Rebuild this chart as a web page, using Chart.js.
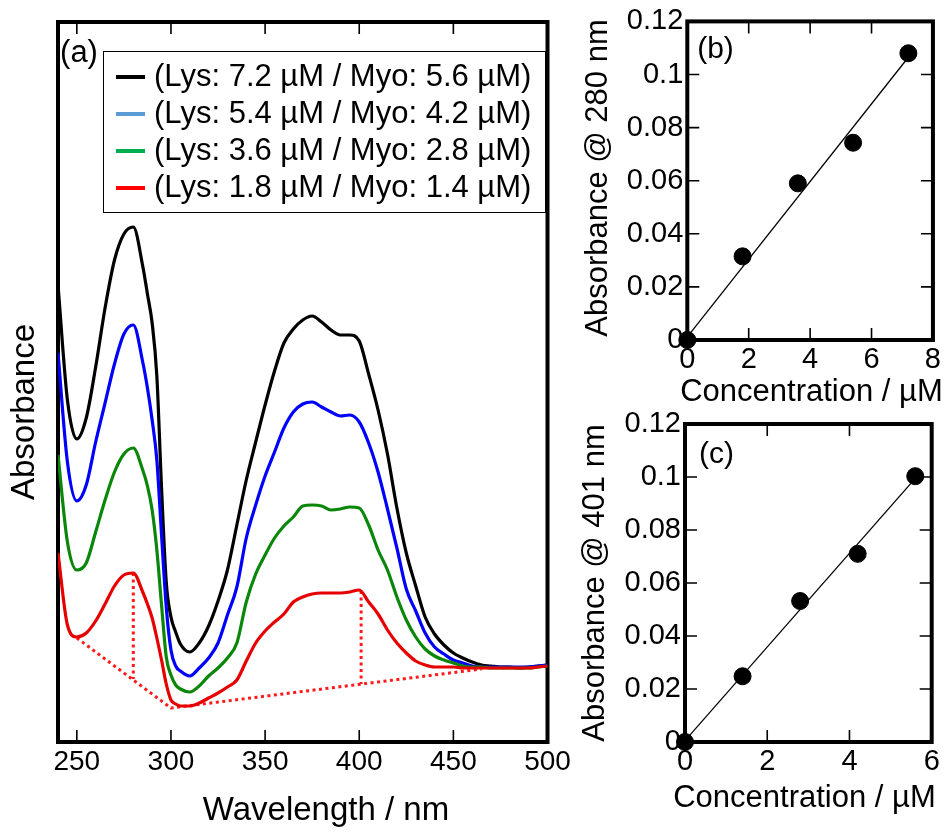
<!DOCTYPE html>
<html>
<head>
<meta charset="utf-8">
<script src="https://cdn.jsdelivr.net/npm/chart.js@4.4.1/dist/chart.umd.min.js"></script>
<style>
  html, body { margin: 0; padding: 0; background: #fff; }
  #wrap { position: relative; width: 944px; height: 832px; }
  canvas { position: absolute; }
</style>
</head>
<body>
<div id="wrap">
  <canvas id="spectra" width="578" height="832" style="left:0;top:0"></canvas>
  <canvas id="at280" width="366" height="416" style="left:578px;top:0"></canvas>
  <canvas id="at401" width="366" height="432" style="left:578px;top:400px"></canvas>
</div>
<script>
// ---- panel (a): UV-vis spectra (arbitrary absorbance units) ----
const wavelength = [240,245,250,255,260,265,270,275,280,285,287.5,290,292.5,295,297.5,300,302.5,305,310,315,320,325,330,335,
  340,345,350,355,360,365,370,375,380,385,390,395,400,405,410,415,420,425,430,435,
  440,445,450,455,460,465,470,475,480,485,490,495,500];

const absMix72 = [457,342,303,324,375,434,482,508,515,476,448,419,366,254,160,125,110,98,90,99,116,141,172,217,
  262,300,337,371,399,413,422,426,420,412,407,407,401,368,332,288,234,189,156,125,
  108,97,89,84,80,77,76,75,75,74,75,76,77];
const absMix54 = [389,280,241,257,300,339,378,408,417,380,354,322,282,207,135,92,76,71,66,74,84,99,127,155,
  204,237,266,290,314,330,338,340,335,330,326,327,320,299,270,233,194,153,131,109,
  95,88,82,79,76,75,75,75,75,75,75,76,77];
const absMix36 = [287,200,172,179,210,242,270,288,294,272,256,232,192,137,85,67,57,53,50,56,66,74,84,99,
  140,168,187,204,216,225,236,237,236,232,233,235,234,217,192,172,145,122,105,93,
  86,82,79,76,75,75,74,74,74,74,74,75,76];
const absMix18 = [189,117,105,109,121,138,156,167,169,150,138,124,104,82,58,42,38,36,36,39,44,49,55,62,
  81,99,111,120,128,140,145,148,149,149,149,150,152,140,128,112,99,89,81,77,
  75,75,75,74,74,74,74,74,74,74,74,75,76];

const seriesLabels = [
  '(Lys: 7.2 µM / Myo: 5.6 µM)',
  '(Lys: 5.4 µM / Myo: 4.2 µM)',
  '(Lys: 3.6 µM / Myo: 2.8 µM)',
  '(Lys: 1.8 µM / Myo: 1.4 µM)'
];
const lineColors = ['#000000', '#0000ff', '#0a870a', '#e60000'];
const legendColors = ['#000000', '#5b9bd5', '#00b050', '#ff0000'];

// baseline construction on the lowest spectrum (red dotted)
const baseWl = [250, 300, 465];
const baseAbs = [104, 34, 73];
const dropWl = [280, 401];
const dropTop = [169, 151];
const dropBottom = [63, 58];

const xTicksA = [250, 300, 350, 400, 450, 500];

// ---- panels (b) and (c): calibration plots ----
const lysConc = [0, 1.8, 3.6, 5.4, 7.2];
const abs280 = [0, 0.0315, 0.059, 0.0743, 0.108];
const fitConcB = [0, 7.2];
const fitAbsB = [0.0012, 0.1065];

const myoConc = [0, 1.4, 2.8, 4.2, 5.6];
const abs401 = [0, 0.0248, 0.0532, 0.071, 0.1003];
const fitConcC = [0, 5.6];
const fitAbsC = [0.0005, 0.0995];

const xTicksB = [0, 2, 4, 6, 8];
const xTicksC = [0, 2, 4, 6];
const yTicksBC = [0, 0.02, 0.04, 0.06, 0.08, 0.1, 0.12];

const FONT = "'Liberation Sans', Arial, Helvetica, sans-serif";
Chart.defaults.font.family = FONT;
Chart.defaults.color = '#000';

function pts(xs, ys) {
  return xs.map((x, i) => ({ x: x, y: ys[i] }));
}

// frame, inward ticks, free text and legend
const decor = {
  id: 'decor',
  beforeDatasetsDraw(chart, args, opts) {
    const ctx = chart.ctx, a = chart.chartArea;
    const xs = chart.scales.x, ys = chart.scales.y;
    const len = opts.tickLength;
    ctx.save();
    ctx.strokeStyle = '#000';
    ctx.lineWidth = 1.6;
    ctx.beginPath();
    xs.ticks.forEach(t => {
      const px = xs.getPixelForValue(t.value);
      ctx.moveTo(px, a.bottom); ctx.lineTo(px, a.bottom - len);
      ctx.moveTo(px, a.top); ctx.lineTo(px, a.top + len);
    });
    if (opts.yTicks) {
      ys.ticks.forEach(t => {
        const py = ys.getPixelForValue(t.value);
        ctx.moveTo(a.left, py); ctx.lineTo(a.left + len, py);
        ctx.moveTo(a.right, py); ctx.lineTo(a.right - len, py);
      });
    }
    ctx.stroke();
    ctx.lineWidth = 4;
    ctx.strokeRect(a.left, a.top, a.right - a.left, a.bottom - a.top);
    ctx.restore();
  },
  afterDraw(chart, args, opts) {
    const ctx = chart.ctx;
    ctx.save();
    ctx.fillStyle = '#000';
    ctx.textAlign = 'center';
    ctx.textBaseline = 'middle';
    (opts.texts || []).forEach(t => {
      ctx.font = t.size + 'px ' + FONT;
      ctx.save();
      ctx.translate(t.x, t.y);
      if (t.rotate) ctx.rotate(-Math.PI / 2);
      ctx.fillText(t.text, 0, 0);
      ctx.restore();
    });
    const lg = opts.legend;
    if (lg) {
      ctx.fillStyle = '#fff';
      ctx.fillRect(lg.x, lg.y, lg.w, lg.h);
      ctx.strokeStyle = '#000';
      ctx.lineWidth = 1;
      ctx.strokeRect(lg.x + 0.5, lg.y + 0.5, lg.w, lg.h);
      ctx.font = lg.size + 'px ' + FONT;
      ctx.textAlign = 'left';
      seriesLabels.forEach((label, i) => {
        const y = lg.rowY[i];
        ctx.strokeStyle = legendColors[i];
        ctx.lineWidth = 4;
        ctx.beginPath();
        ctx.moveTo(lg.lineX0, y); ctx.lineTo(lg.lineX1, y);
        ctx.stroke();
        ctx.fillStyle = '#000';
        ctx.fillText(label, lg.textX, y);
      });
    }
    ctx.restore();
  }
};

function fixedTicks(list) {
  return s => { s.ticks = list.map(v => ({ value: v })); };
}

// panel (a)
const spectraSets = [absMix72, absMix54, absMix36, absMix18].map((arr, i) => ({
  data: pts(wavelength, arr),
  borderColor: lineColors[i],
  borderWidth: 3.2,
  pointRadius: 0,
  cubicInterpolationMode: 'monotone',
  order: 3 - i
}));
const dotted = { borderColor: '#ff1a1a', borderWidth: 3, borderDash: [3, 3.5], pointRadius: 0, order: 5 };
spectraSets.push(Object.assign({ data: pts(baseWl, baseAbs) }, dotted));
dropWl.forEach((w, i) => {
  spectraSets.push(Object.assign({ data: [{ x: w, y: dropTop[i] }, { x: w, y: dropBottom[i] }] }, dotted));
});

new Chart(document.getElementById('spectra'), {
  type: 'line',
  data: { datasets: spectraSets },
  plugins: [decor],
  options: {
    responsive: false, animation: false, devicePixelRatio: 1, events: [],
    layout: { padding: { top: 22, right: 30.5, left: 0, bottom: 0 } },
    plugins: {
      legend: { display: false }, tooltip: { enabled: false },
      decor: {
        tickLength: 12, yTicks: false,
        texts: [
          { text: '(a)', x: 79, y: 53, size: 31 },
          { text: 'Wavelength / nm', x: 326, y: 811, size: 33 },
          { text: 'Absorbance', x: 25, y: 412, size: 33, rotate: true }
        ],
        legend: { x: 103, y: 51, w: 442, h: 161, size: 31, rowY: [77, 114, 151, 188], lineX0: 116, lineX1: 145, textX: 154 }
      }
    },
    scales: {
      x: {
        type: 'linear', min: 240, max: 500,
        afterBuildTicks: fixedTicks(xTicksA),
        afterFit: s => { s.height = 90; },
        grid: { display: false, drawTicks: false },
        border: { display: false },
        ticks: { font: { size: 28 }, color: '#000', padding: 3, maxRotation: 0, autoSkip: false, callback: v => String(v) }
      },
      y: {
        type: 'linear', min: 0, max: 720,
        afterFit: s => { s.width = 58; },
        grid: { display: false, drawTicks: false },
        border: { display: false },
        ticks: { display: false }
      }
    }
  }
});

// panels (b) and (c)
function calibration(canvasId, conc, absVals, fitX, fitY, xTicks, xMax, geom) {
  return new Chart(document.getElementById(canvasId), {
    type: 'line',
    data: {
      datasets: [
        { data: pts(conc, absVals), showLine: false, pointRadius: 8.5, pointBorderWidth: 1,
          pointBackgroundColor: '#000', pointBorderColor: '#000', clip: false, order: 0 },
        { data: pts(fitX, fitY), borderColor: '#000', borderWidth: 1.3, pointRadius: 0, order: 1 }
      ]
    },
    plugins: [decor],
    options: {
      responsive: false, animation: false, devicePixelRatio: 1, events: [],
      layout: { padding: { top: geom.top, right: geom.right, left: 0, bottom: 0 } },
      plugins: {
        legend: { display: false }, tooltip: { enabled: false },
        decor: { tickLength: 12, yTicks: true, texts: geom.texts }
      },
      scales: {
        x: {
          type: 'linear', min: 0, max: xMax,
          afterBuildTicks: fixedTicks(xTicks),
          afterFit: s => { s.height = geom.xh; },
          grid: { display: false, drawTicks: false },
          border: { display: false },
          ticks: { font: { size: 29 }, color: '#000', padding: 3, maxRotation: 0, autoSkip: false, callback: v => String(v) }
        },
        y: {
          type: 'linear', min: 0, max: 0.12,
          afterBuildTicks: fixedTicks(yTicksBC),
          afterFit: s => { s.width = geom.yw; },
          grid: { display: false, drawTicks: false },
          border: { display: false },
          ticks: { font: { size: 29 }, color: '#000', padding: 4, callback: v => String(v) }
        }
      }
    }
  });
}

calibration('at280', lysConc, abs280, fitConcB, fitAbsB, xTicksB, 8, {
  top: 20, right: 9.7, xh: 76, yw: 109.3,
  texts: [
    { text: '(b)', x: 137.5, y: 50, size: 30 },
    { text: 'Concentration / µM', x: 233.5, y: 392, size: 31 },
    { text: 'Absorbance @ 280 nm', x: 20, y: 178, size: 31, rotate: true }
  ]
});

calibration('at401', myoConc, abs401, fitConcC, fitAbsC, xTicksC, 6, {
  top: 24, right: 12.3, xh: 90, yw: 107,
  texts: [
    { text: '(c)', x: 138.5, y: 55, size: 30 },
    { text: 'Concentration / µM', x: 226.5, y: 398, size: 31 },
    { text: 'Absorbance @ 401 nm', x: 17, y: 183, size: 31, rotate: true }
  ]
});
</script>
</body>
</html>
